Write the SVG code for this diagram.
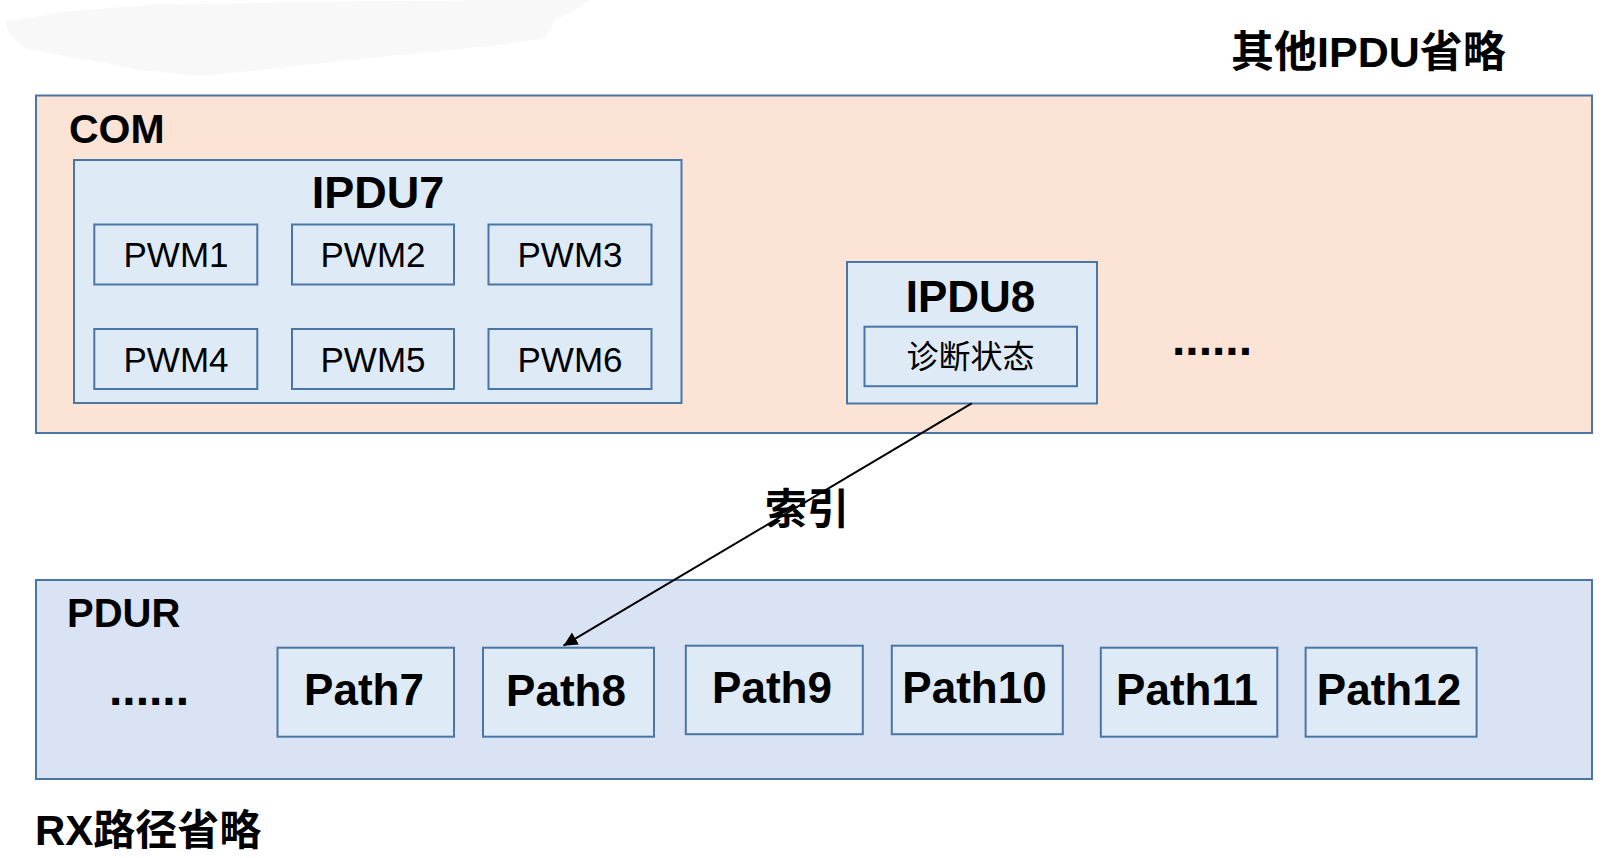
<svg xmlns="http://www.w3.org/2000/svg" width="1607" height="858" viewBox="0 0 1607 858">
  <defs>
    <style>
      .box { stroke: #4A76A6; stroke-width: 2; }
      .com { fill: #FBE4D5; }
      .ipdu { fill: #DEEAF6; }
      .pdur { fill: #DAE3F3; }
      .t { font-family: "Liberation Sans", "Noto Sans CJK SC", sans-serif; fill: #000; }
      .b { font-weight: bold; }
      .cjk { font-family: "Noto Sans CJK SC", "Liberation Sans", sans-serif; fill: #000; }
      .mid { text-anchor: middle; }
    </style>
    <marker id="arrow" viewBox="0 0 10 10" refX="10" refY="5" markerWidth="14" markerHeight="14" markerUnits="userSpaceOnUse" orient="auto">
      <path d="M0,0 L10,5 L0,10 z" fill="#000"/>
    </marker>
  </defs>
  <rect width="1607" height="858" fill="#fff"/>
  <path d="M5,22 L60,12 L150,5 L300,2 L500,0 L590,0 L575,10 L555,20 L545,38 L500,45 L450,50 L400,55 L330,62 L280,68 L200,76 L140,70 L100,62 L60,55 L25,48 L10,35 Z" fill="#f8f8f8"/>

  <text class="cjk b" x="1231" y="67" font-size="43">其他<tspan class="t b">IPDU</tspan>省略</text>

  <g id="COM">
    <rect class="box com" x="36" y="95.5" width="1556" height="337.5"/>
    <text class="t b" x="69" y="143" font-size="41">COM</text>
    <text class="t b" x="1172" y="355" font-size="48">......</text>
  </g>

  <g id="IPDU7">
    <rect class="box ipdu" x="74" y="160" width="607.5" height="243"/>
    <text class="t b mid" x="378" y="208" font-size="45">IPDU7</text>
  </g>
  <g id="PWM1"><rect class="box ipdu" x="94.3" y="224.5" width="163" height="60"/><text class="t mid" x="176" y="267" font-size="35">PWM1</text></g>
  <g id="PWM2"><rect class="box ipdu" x="292" y="224.5" width="162" height="60"/><text class="t mid" x="373" y="267" font-size="35">PWM2</text></g>
  <g id="PWM3"><rect class="box ipdu" x="488.5" y="224.5" width="163" height="60"/><text class="t mid" x="570" y="267" font-size="35">PWM3</text></g>
  <g id="PWM4"><rect class="box ipdu" x="94.3" y="329" width="163" height="60"/><text class="t mid" x="176" y="371.5" font-size="35">PWM4</text></g>
  <g id="PWM5"><rect class="box ipdu" x="292" y="329" width="162" height="60"/><text class="t mid" x="373" y="371.5" font-size="35">PWM5</text></g>
  <g id="PWM6"><rect class="box ipdu" x="488.5" y="329" width="163" height="60"/><text class="t mid" x="570" y="371.5" font-size="35">PWM6</text></g>

  <g id="IPDU8">
    <rect class="box ipdu" x="847" y="262" width="250" height="141.5"/>
    <text class="t b mid" x="970.5" y="311.5" font-size="44">IPDU8</text>
  </g>
  <g id="diag">
    <rect class="box ipdu" x="864.5" y="326.7" width="212.5" height="59.5"/>
    <text class="cjk mid" x="970.5" y="368" font-size="32">诊断状态</text>
  </g>

  <g id="PDUR">
    <rect class="box pdur" x="36" y="580" width="1556" height="199"/>
    <text class="t b" x="67" y="627" font-size="40">PDUR</text>
    <text class="t b" x="109" y="705" font-size="48">......</text>
  </g>

  <g id="Path7"><rect class="box ipdu" x="277.5" y="647.7" width="176.5" height="89"/><text class="t b mid" x="364" y="705" font-size="44">Path7</text></g>
  <g id="Path8"><rect class="box ipdu" x="483" y="647.7" width="171" height="89"/><text class="t b mid" x="566" y="705.5" font-size="44">Path8</text></g>
  <g id="Path9"><rect class="box ipdu" x="685.8" y="645.7" width="177" height="88.5"/><text class="t b mid" x="772" y="703" font-size="44">Path9</text></g>
  <g id="Path10"><rect class="box ipdu" x="891.8" y="645.7" width="171" height="88.5"/><text class="t b mid" x="974.5" y="703" font-size="44">Path10</text></g>
  <g id="Path11"><rect class="box ipdu" x="1100.8" y="647.7" width="176.5" height="89"/><text class="t b mid" x="1187" y="705" font-size="44">Path11</text></g>
  <g id="Path12"><rect class="box ipdu" x="1305.6" y="647.7" width="171" height="89"/><text class="t b mid" x="1389" y="705" font-size="44">Path12</text></g>

  <g id="connectors">
    <line x1="971.7" y1="403.3" x2="563.5" y2="645.7" stroke="#000" stroke-width="2" marker-end="url(#arrow)"/>
    <text class="cjk b" x="765" y="524" font-size="42">索引</text>
  </g>

  <text class="cjk b" x="35" y="845" font-size="42"><tspan class="t b">RX</tspan>路径省略</text>
</svg>
